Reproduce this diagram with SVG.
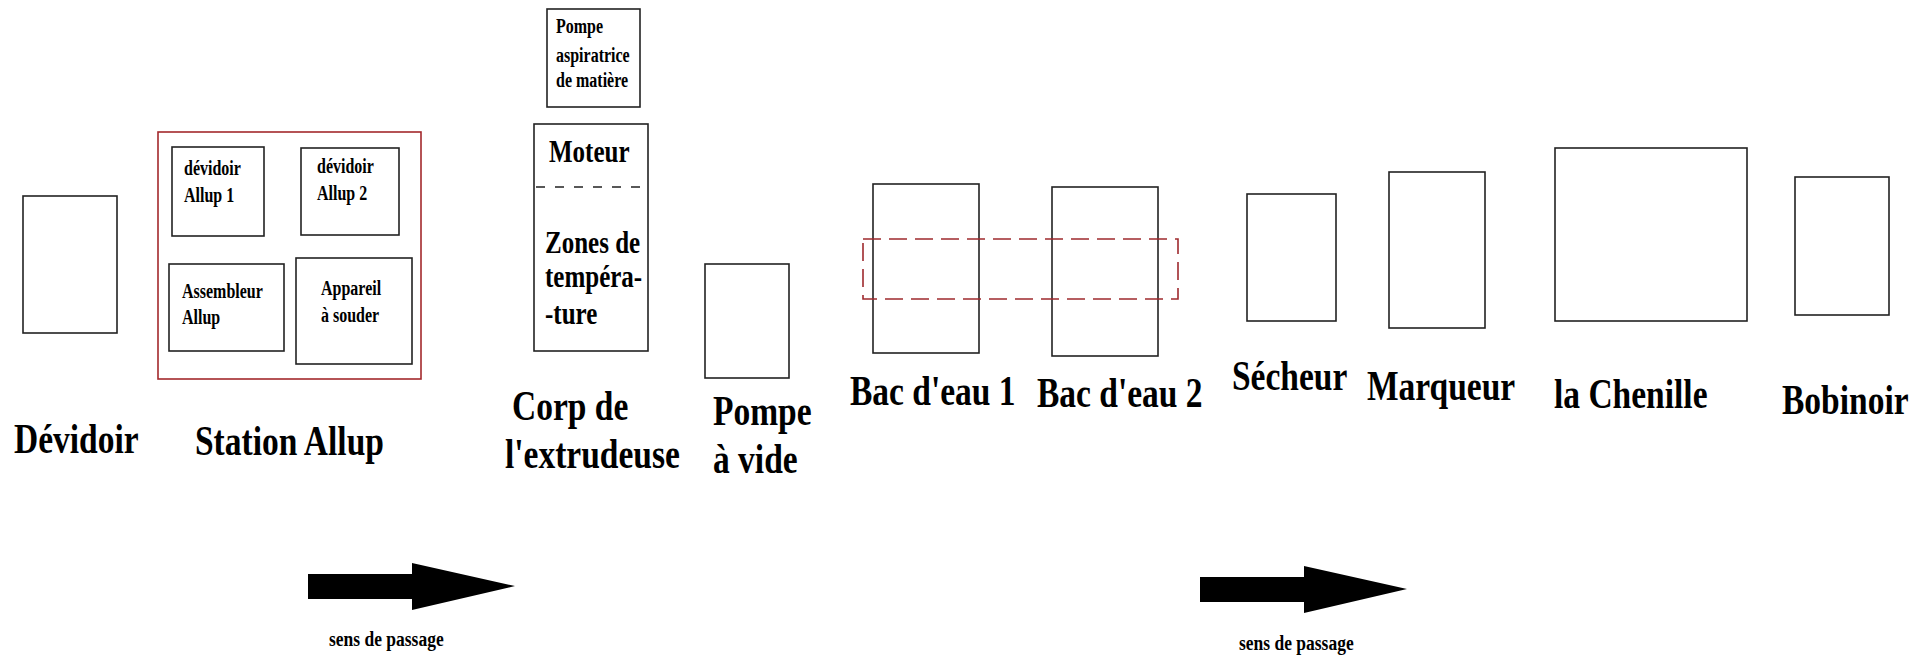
<svg xmlns="http://www.w3.org/2000/svg" width="1932" height="663" viewBox="0 0 1932 663">
<style>
.box{fill:#fff;stroke:#222;stroke-width:1.6}
.red{fill:none;stroke:#a3282c;stroke-width:1.6}
.reddash{fill:none;stroke:#9e2a2e;stroke-width:1.6;stroke-dasharray:18 8}
.dash{stroke:#222;stroke-width:1.4;stroke-dasharray:9 10}
text{font-family:"Liberation Serif","Times New Roman",serif;font-weight:bold;fill:#000}
.big{font-size:33.5px}
.md{font-size:25px}
.sm{font-size:16px}
.cap{font-size:17.5px}
.arrow{fill:#000}
</style>
<rect width="1932" height="663" fill="#fff"/>

<g id="devidoir">
<rect class="box" x="23" y="196" width="94" height="137"/>
<text class="big" transform="matrix(1 0 0 1.25 14 453)">Dévidoir</text>
</g>

<g id="station-allup">
<rect class="red" x="158" y="132" width="263" height="247"/>
<text class="big" transform="matrix(1 0 0 1.25 195 455)">Station Allup</text>
</g>
<g id="devidoir-allup-1">
<rect class="box" x="172" y="147" width="92" height="89"/>
<text class="sm" transform="matrix(1 0 0 1.3 184 175)"><tspan x="0" y="0">dévidoir</tspan><tspan x="0" dy="20.8">Allup 1</tspan></text>
</g>
<g id="devidoir-allup-2">
<rect class="box" x="301" y="148" width="98" height="87"/>
<text class="sm" transform="matrix(1 0 0 1.3 317 173)"><tspan x="0" y="0">dévidoir</tspan><tspan x="0" dy="20.8">Allup 2</tspan></text>
</g>
<g id="assembleur-allup">
<rect class="box" x="169" y="264" width="115" height="87"/>
<text class="sm" transform="matrix(1 0 0 1.3 182 298)"><tspan x="0" y="0">Assembleur</tspan><tspan x="0" dy="20">Allup</tspan></text>
</g>
<g id="appareil-a-souder">
<rect class="box" x="296" y="258" width="116" height="106"/>
<text class="sm" transform="matrix(1 0 0 1.3 321 295)"><tspan x="0" y="0">Appareil</tspan><tspan x="0" dy="20.8">à souder</tspan></text>
</g>

<g id="pompe-aspiratrice">
<rect class="box" x="547" y="9" width="93" height="98"/>
<text class="sm" transform="matrix(1 0 0 1.3 556 33)"><tspan x="0" y="0">Pompe</tspan><tspan x="0" dy="22">aspiratrice</tspan><tspan x="0" dy="19.5">de matière</tspan></text>
</g>

<g id="corps-extrudeuse">
<rect class="box" x="534" y="124" width="114" height="227"/>
<line class="dash" x1="536" y1="187" x2="640" y2="187"/>
<text class="md" transform="matrix(1 0 0 1.3 549 162)">Moteur</text>
<text class="md" transform="matrix(1 0 0 1.3 545 253)"><tspan x="0" y="0">Zones de</tspan><tspan x="0" dy="26.2">tempéra-</tspan><tspan x="0" dy="28.4">-ture</tspan></text>
<text class="big" transform="matrix(1 0 0 1.25 512 420)"><tspan x="0" y="0">Corp de</tspan><tspan x="-7" dy="38.4">l'extrudeuse</tspan></text>
</g>

<g id="pompe-a-vide">
<rect class="box" x="705" y="264" width="84" height="114"/>
<text class="big" transform="matrix(1 0 0 1.25 713 425)"><tspan x="0" y="0">Pompe</tspan><tspan x="0" dy="38.4">à vide</tspan></text>
</g>

<g id="bac-eau-1">
<rect class="box" x="873" y="184" width="106" height="169"/>
<text class="big" transform="matrix(1 0 0 1.25 850 405)">Bac d'eau 1</text>
</g>
<g id="bac-eau-2">
<rect class="box" x="1052" y="187" width="106" height="169"/>
<text class="big" transform="matrix(1 0 0 1.25 1037 407)">Bac d'eau 2</text>
</g>
<g id="bac-zone">
<rect class="reddash" x="863" y="239" width="315" height="60"/>
</g>

<g id="secheur">
<rect class="box" x="1247" y="194" width="89" height="127"/>
<text class="big" transform="matrix(1 0 0 1.25 1232 390)">Sécheur</text>
</g>
<g id="marqueur">
<rect class="box" x="1389" y="172" width="96" height="156"/>
<text class="big" transform="matrix(1 0 0 1.25 1367 400)">Marqueur</text>
</g>
<g id="chenille">
<rect class="box" x="1555" y="148" width="192" height="173"/>
<text class="big" transform="matrix(1 0 0 1.25 1554 408)">la Chenille</text>
</g>
<g id="bobinoir">
<rect class="box" x="1795" y="177" width="94" height="138"/>
<text class="big" transform="matrix(1 0 0 1.25 1782 414)">Bobinoir</text>
</g>

<g id="connectors">
<polygon class="arrow" points="308,574 412,574 412,563 515,586 412,610 412,599 308,599"/>
<polygon class="arrow" points="1200,577 1304,577 1304,566 1407,589 1304,613 1304,602 1200,602"/>
</g>
<g id="flow-labels">
<text class="cap" transform="matrix(1 0 0 1.2 329 646)">sens de passage</text>
<text class="cap" transform="matrix(1 0 0 1.2 1239 650)">sens de passage</text>
</g>
</svg>
